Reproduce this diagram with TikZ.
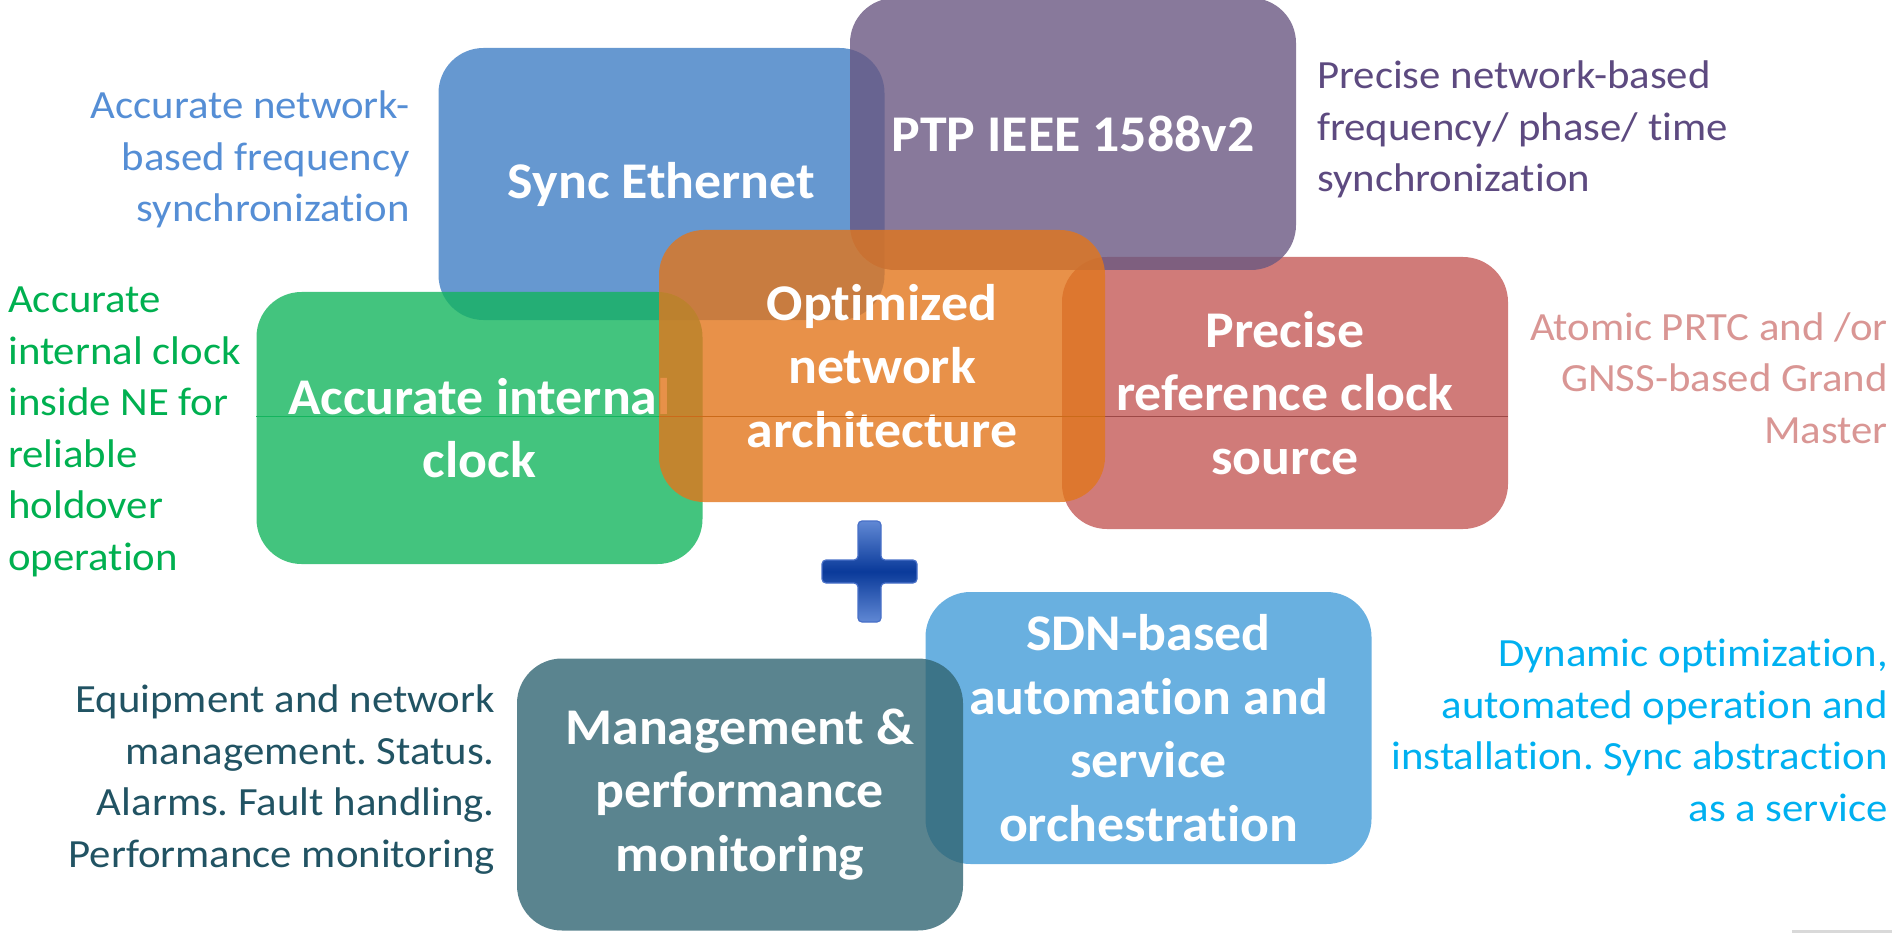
\documentclass[tikz,border=0pt]{standalone}
\usepackage{fontspec}
\setmainfont{Carlito}[Ligatures=NoCommon]
\newfontfamily\boxfont{Carlito}[FakeStretch=1.045, Ligatures=NoCommon]
\newfontfamily\notefont{Carlito}[FakeStretch=1.07, Ligatures=NoCommon]
\frenchspacing
\definecolor{syncfill}{RGB}{64,126,196}
\definecolor{ptpfill}{RGB}{106,88,130}
\definecolor{archfill}{RGB}{226,118,28}
\definecolor{clockfill}{RGB}{20,181,94}
\definecolor{reffill}{RGB}{196,90,88}
\definecolor{mgmtfill}{RGB}{49,101,115}
\definecolor{sdnfill}{RGB}{68,156,216}
\definecolor{synctext}{RGB}{85,142,213}
\definecolor{ptptext}{RGB}{93,74,128}
\definecolor{clocktext}{RGB}{0,176,80}
\definecolor{reftext}{RGB}{217,150,148}
\definecolor{mgmttext}{RGB}{33,83,99}
\definecolor{sdntext}{RGB}{0,176,240}
\definecolor{plusdark}{RGB}{10,58,154}
\definecolor{pluslight}{RGB}{96,136,212}
\definecolor{plusedge}{RGB}{72,112,200}
\tikzset{
  box/.style={rounded corners=45pt, minimum width=446pt, minimum height=272pt, inner sep=0pt,
    fill opacity=0.8, text opacity=1, text=white, align=center,
    font=\boxfont\fontsize{51.5}{63.5}\selectfont\bfseries},
  note/.style={inner sep=0pt, font=\notefont\fontsize{40}{51.5}\selectfont},
  seam/.style={line width=1pt}
}
\begin{document}
\begin{tikzpicture}[x=1pt, y=-1pt]
\useasboundingbox (0,0) rectangle (1892,933);
\coordinate (seam) at (0,416);

\node (sdn) [box, fill=sdnfill] at (1148.5,728) {SDN-based\\automation and\\service\\orchestration};
\node (mgmt) [box, fill=mgmtfill] at (740,794.5) {Management \&\\performance\\monitoring};
\node (sync) [box, fill=syncfill] at (661.5,184) {Sync Ethernet};
\node (clock) [box, fill=clockfill] at (479.5,428) {Accurate internal\\clock};
\draw [seam, clockfill] (clock.west |- seam) -- (clock.east |- seam);
\node (ref) [box, fill=reffill] at (1285,393) {Precise\\reference clock\\source};
\draw [seam, reffill!80!black] (ref.west |- seam) -- (ref.east |- seam);
\node (ptp) [box, fill=ptpfill] at (1073,134) {PTP IEEE 1588v2};
\node (arch) [box, fill=archfill] at (882,366) {Optimized\\network\\architecture};
\draw [seam, archfill!90!black] (arch.west |- seam) -- (arch.east |- seam);

\node (syncnote) [note, anchor=base east, align=right, text=synctext] at (410,222) {Accurate network-\\based frequency\\synchronization};
\node (clocknote) [note, anchor=base west, align=left, text=clocktext] at (8,570) {Accurate\\internal clock\\inside NE for\\reliable\\holdover\\operation};
\node (ptpnote) [note, anchor=base west, align=left, text=ptptext] at (1317,192) {Precise network-based\\frequency/ phase/ time\\synchronization};
\node (refnote) [note, anchor=base east, align=right, text=reftext] at (1888,443) {Atomic PRTC and /or\\GNSS-based Grand\\Master};
\node (mgmtnote) [note, anchor=base east, align=right, text=mgmttext] at (495,867) {Equipment and network\\management. Status.\\Alarms. Fault handling.\\Performance monitoring};
\node (sdnnote) [note, anchor=base east, align=right, text=sdntext] at (1888,821) {Dynamic optimization,\\automated operation and\\installation. Sync abstraction\\as a service};

\draw [plusedge, line width=1.2pt, top color=pluslight, bottom color=pluslight, middle color=plusdark, rounded corners=4pt]
  (858,521) -- (881,521) -- (881,560) -- (917,560) -- (917,583) -- (881,583) -- (881,622)
  -- (858,622) -- (858,583) -- (822,583) -- (822,560) -- (858,560) -- cycle;
\fill [black!15] (1792,930) rectangle (1892,933);
\end{tikzpicture}
\end{document}
